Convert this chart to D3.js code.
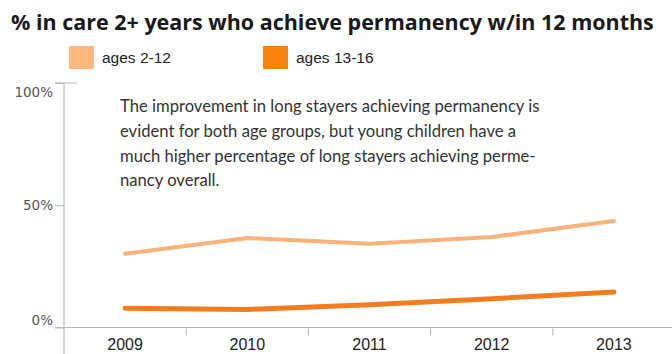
<!DOCTYPE html>
<html>
<head>
<meta charset="utf-8">
<script src="https://cdn.jsdelivr.net/npm/d3@7"></script>
<style>
  html, body { margin: 0; padding: 0; background: #fff; }
  svg { display: block; }
</style>
</head>
<body>
<svg id="chart" width="672" height="354"></svg>
<script>
// Data
const years = ["2009", "2010", "2011", "2012", "2013"];
const ages2to12 = [30.2, 36.6, 34.3, 37.0, 43.6];
const ages13to16 = [7.9, 7.4, 9.3, 11.8, 14.5];
const yTicks = [0, 50, 100];
const seriesNames = ["ages 2-12", "ages 13-16"];
const titleText = "% in care 2+ years who achieve permanency w/in 12 months";
const noteLines = [
  "The improvement in long stayers achieving permanency is",
  "evident for both age groups, but young children have a",
  "much higher percentage of long stayers achieving perme-",
  "nancy overall."
];

const colors = ["#F9B27A", "#F27C1F"];
const swatchColors = ["#FDB97E", "#F7820F"];

const svg = d3.select("#chart");

// Plot geometry
const plotLeft = 64, plotRight = 675, plotTop = 83, plotBottom = 327.5;

const x = d3.scaleBand().domain(years).range([plotLeft, plotRight]);
const y = d3.scaleLinear().domain([0, 100]).range([plotBottom, plotTop]);

// Title, sized to span the header width
const title = svg.append("text")
  .attr("x", 11).attr("y", 30)
  .attr("font-family", "'Open Sans', sans-serif")
  .attr("font-weight", 700)
  .attr("font-size", 18)
  .attr("fill", "#1a1a1a")
  .text(titleText);
const tw = title.node().getComputedTextLength();
title.attr("font-size", 18 * 643 / tw);

// Legend
const legendX = [69, 263];
seriesNames.forEach((name, i) => {
  svg.append("rect")
    .attr("x", legendX[i]).attr("y", 46)
    .attr("width", 25).attr("height", 23)
    .attr("fill", swatchColors[i]);
  svg.append("text")
    .attr("x", legendX[i] + 33).attr("y", 62.5)
    .attr("font-family", "'Liberation Sans', Arial, sans-serif")
    .attr("font-size", 15.5)
    .attr("fill", "#222")
    .text(name);
});

// Y axis
const yAxis = d3.axisLeft(y).tickValues(yTicks).tickFormat(d => d + "%").tickSize(9).tickPadding(2);
const gy = svg.append("g").attr("transform", `translate(${plotLeft},0)`).call(yAxis);
gy.select(".domain").remove();
gy.selectAll(".tick line").attr("stroke", "#b5b5b5");
gy.selectAll(".tick text")
  .attr("font-family", "'DejaVu Sans', Verdana, sans-serif")
  .attr("font-size", 13.5)
  .attr("fill", "#555")
  .attr("dy", d => d === 100 ? "1.0em" : d === 0 ? "-0.2em" : "0.32em");
// short rule at the top of the scale
svg.append("line")
  .attr("x1", plotLeft - 9).attr("x2", plotLeft + 13)
  .attr("y1", y(100)).attr("y2", y(100))
  .attr("stroke", "#b5b5b5");
// vertical axis line running past the baseline
svg.append("line")
  .attr("x1", plotLeft).attr("x2", plotLeft)
  .attr("y1", y(100)).attr("y2", 354)
  .attr("stroke", "#b5b5b5");

// X axis baseline
svg.append("line")
  .attr("x1", plotLeft - 9).attr("x2", 672)
  .attr("y1", plotBottom).attr("y2", plotBottom)
  .attr("stroke", "#b5b5b5");
// Separator ticks between years
svg.append("g").selectAll("line")
  .data(years.slice(1))
  .join("line")
  .attr("x1", d => x(d)).attr("x2", d => x(d))
  .attr("y1", plotBottom + 1).attr("y2", plotBottom + 8)
  .attr("stroke", "#b5b5b5");
// Year labels
svg.append("g").selectAll("text")
  .data(years)
  .join("text")
  .attr("x", d => x(d) + x.bandwidth() / 2)
  .attr("y", 350)
  .attr("text-anchor", "middle")
  .attr("font-family", "'Liberation Sans', Arial, sans-serif")
  .attr("font-size", 16)
  .attr("fill", "#222")
  .text(d => d);

// Annotation
const note = svg.append("g")
  .attr("font-family", "Lato, 'Open Sans', sans-serif")
  .attr("fill", "#333");
const probe = note.append("text").attr("x", 120).attr("y", 113)
  .attr("font-size", 16).text(noteLines[0]);
const nw = probe.node().getComputedTextLength();
const noteSize = 16 * 420 / nw;
probe.remove();
note.selectAll("text")
  .data(noteLines)
  .join("text")
  .attr("x", 120)
  .attr("y", (d, i) => 112 + i * 24.8)
  .attr("font-size", noteSize)
  .text(d => d);

// Lines
const line = d3.line()
  .x((d, i) => x(years[i]) + x.bandwidth() / 2)
  .y(d => y(d));

[ages2to12, ages13to16].forEach((vals, i) => {
  svg.append("path")
    .datum(vals)
    .attr("d", line)
    .attr("fill", "none")
    .attr("stroke", colors[i])
    .attr("stroke-width", i === 0 ? 4 : 5)
    .attr("stroke-linecap", "round")
    .attr("stroke-linejoin", "round");
});
</script>
</body>
</html>
